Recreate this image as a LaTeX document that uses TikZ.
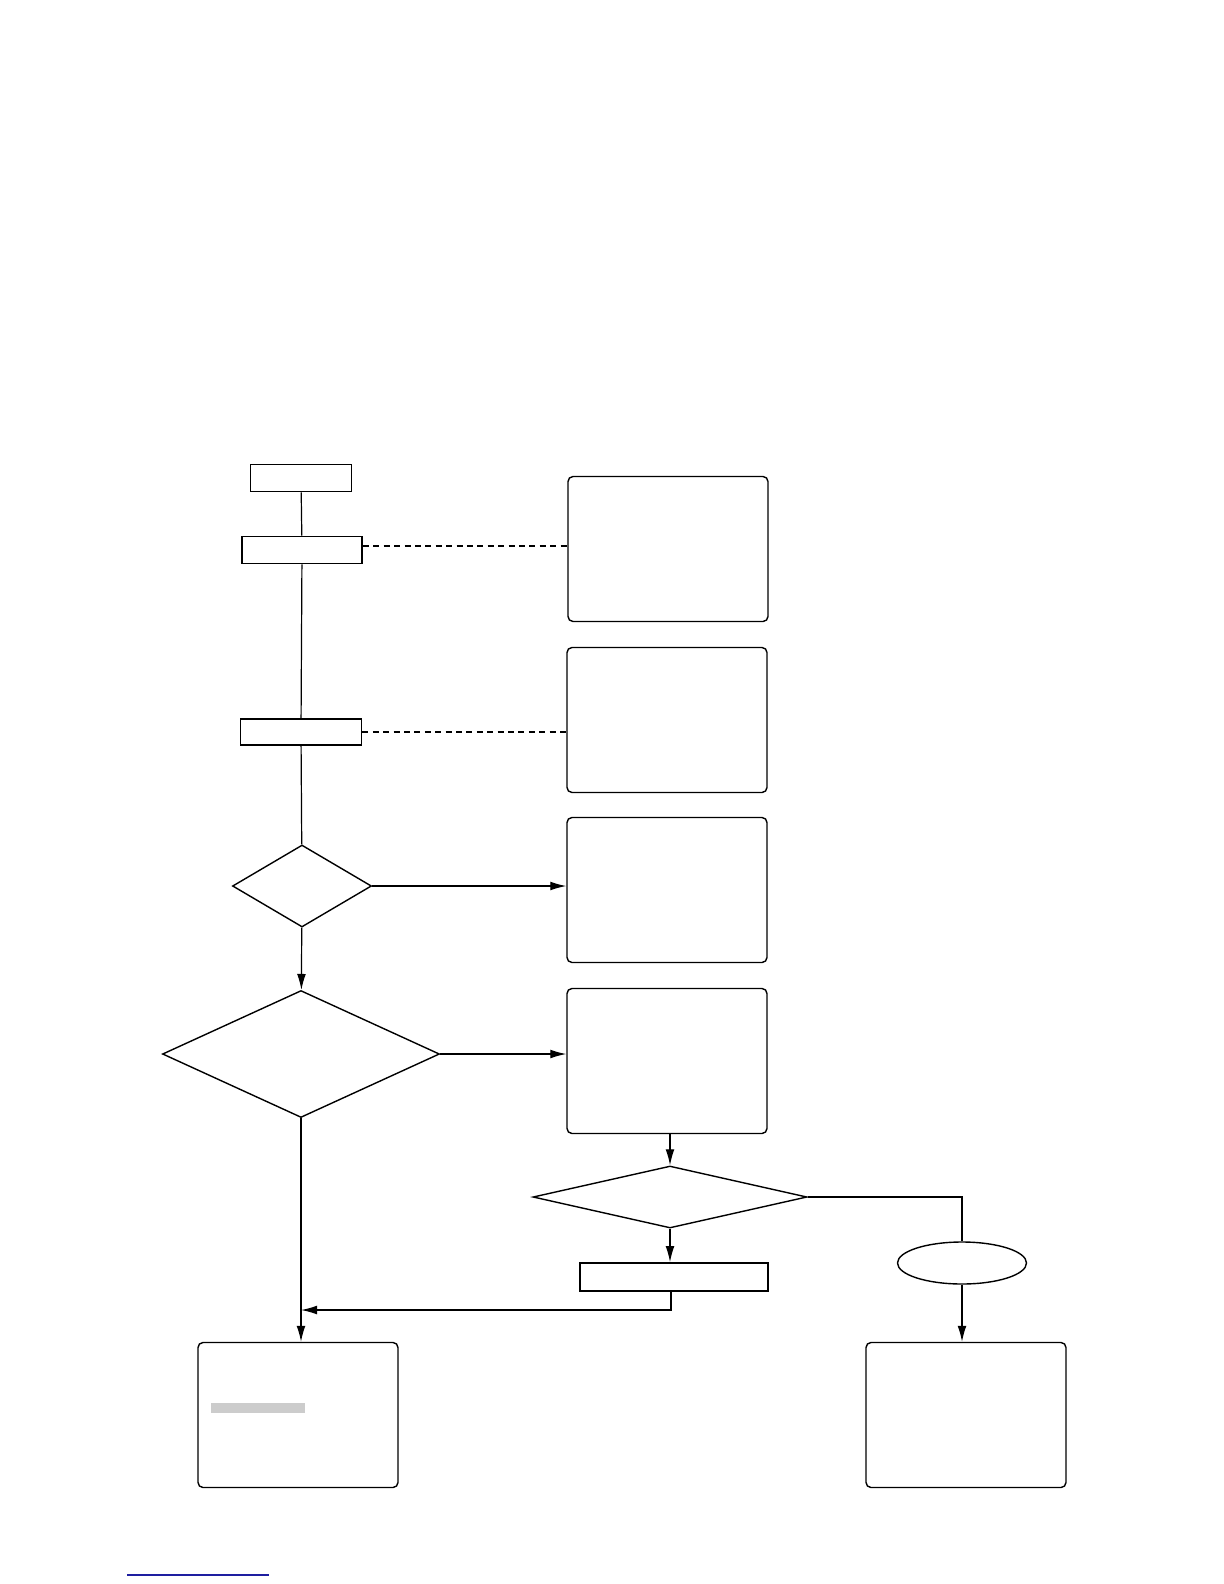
\documentclass[tikz,border=0pt]{standalone}
\usetikzlibrary{shapes.geometric,arrows.meta}
\definecolor{linkblue}{RGB}{30,30,160}
\definecolor{barfill}{RGB}{204,204,204}
\begin{document}
\begin{tikzpicture}[x=0.5pt, y=-0.5pt,
    every node/.style={draw, inner sep=0pt, line width=0.7pt},
    stepbox/.style={rectangle, line width=0.9pt},
    notebox/.style={rectangle, rounded corners=2.5pt, minimum width=100pt, minimum height=72.5pt},
    choice/.style={diamond},
    link/.style={line width=0.6pt},
    flow/.style={line width=0.6pt, -{Latex[length=8pt, width=4.4pt]}},
    note/.style={line width=0.6pt, dash pattern=on 3pt off 2.2pt}]
    \useasboundingbox (0,0) rectangle (1224,1584);
    \node[stepbox, minimum width=50.5pt, minimum height=13.5pt] (start) at (301,478) {};
    \node[stepbox, minimum width=60pt, minimum height=13.5pt] (check) at (302,550) {};
    \node[stepbox, minimum width=60.5pt, minimum height=13pt] (measure) at (301,732) {};
    \node[choice, minimum width=69.5pt, minimum height=41pt] (first) at (302,886) {};
    \node[choice, minimum width=138.5pt, minimum height=63.5pt] (second) at (301,1054) {};
    \node[choice, minimum width=137pt, minimum height=31pt] (third) at (670,1197) {};
    \node[stepbox, minimum width=94pt, minimum height=14pt] (reset) at (674,1277) {};
    \node[ellipse, minimum width=64.5pt, minimum height=21pt] (stop) at (962,1263) {};

    \node[notebox] (noteA) at (668,549) {};
    \node[notebox] (noteB) at (667,720) {};
    \node[notebox] (noteC) at (667,890) {};
    \node[notebox] (noteD) at (667,1061) {};
    \node[notebox] (endA) at (298,1415) {};
    \node[notebox] (endB) at (966,1415) {};
    \coordinate (back) at (671,1310);

    % main line
    \draw[link] (start) -- (check);
    \draw[link] (check) -- (measure);
    \draw[link] (measure) -- (first);
    \draw[flow] (first) -- (second);
    \draw[flow] (second.south) -- (second.south |- endA.north);
    \draw[note] ([yshift=2pt]check.east) -- ([yshift=2pt]check.east -| noteA.west);
    \draw[note] (measure.east) -- (measure.east -| noteB.west);
    \draw[flow] (first.east) -- (first.east -| noteC.west);
    \draw[flow] (second.east) -- (second.east -| noteD.west);
    \draw[flow] (third.north |- noteD.south) -- (third.north);
    \draw[flow] (third.south) -- (third.south |- reset.north);
    \draw[flow] (back |- reset.south) -- (back) -- (back -| second.south);
    \draw[link] (third.east) -| (stop.north);
    \draw[flow] (stop.south) -- (stop.south |- endB.north);

    \fill[barfill] (211,1403) rectangle (305,1413);
    \draw[linkblue, line width=0.6pt] (127,1575) -- (269,1575);
\end{tikzpicture}
\end{document}
